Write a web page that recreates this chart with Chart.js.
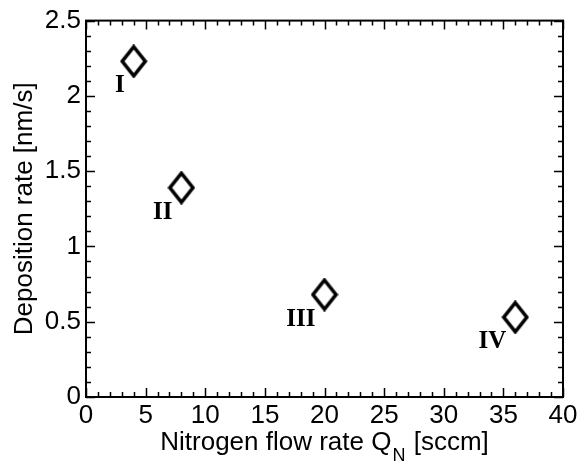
<!DOCTYPE html>
<html>
<head>
<meta charset="utf-8">
<script src="https://cdn.jsdelivr.net/npm/chart.js@4"></script>
<style>
  html, body { margin: 0; padding: 0; background: #fff; }
  #wrap { width: 582px; height: 461px; }
</style>
</head>
<body>
<div id="wrap"><canvas id="depChart"></canvas></div>
<script>
// data
const flowRate = [4, 8, 20, 36];
const depositionRate = [2.23, 1.39, 0.68, 0.53];
const sampleLabels = ['I', 'II', 'III', 'IV'];
const xTickValues = [0, 5, 10, 15, 20, 25, 30, 35, 40];
const yTickValues = [0, 0.5, 1, 1.5, 2, 2.5];

const sansFont = '"Liberation Sans", Arial, Helvetica, sans-serif';
const serifFont = '"Liberation Serif", "Times New Roman", serif';

// tall open diamond marker
function makeDiamond() {
  const c = document.createElement('canvas');
  c.width = 28; c.height = 34;
  const g = c.getContext('2d');
  g.lineWidth = 3.6;
  g.strokeStyle = '#000';
  g.fillStyle = '#fff';
  g.beginPath();
  g.moveTo(14, 2.5);
  g.lineTo(25.5, 17);
  g.lineTo(14, 31.5);
  g.lineTo(2.5, 17);
  g.closePath();
  g.fill();
  g.stroke();
  return c;
}

// inward ticks on all sides, box and titles (matlab look)
const frame = {
  id: 'frame',
  afterDatasetsDraw(chart) {
    const { ctx, chartArea: a, scales: { x, y } } = chart;
    ctx.save();
    ctx.strokeStyle = '#000';
    ctx.lineWidth = 1.5;
    ctx.beginPath();
    for (let v = 0; v <= 40; v += 1) {
      const px = Math.round(x.getPixelForValue(v)) + 0.5;
      const len = v % 5 === 0 ? 9 : 5;
      ctx.moveTo(px, a.bottom); ctx.lineTo(px, a.bottom - len);
      ctx.moveTo(px, a.top); ctx.lineTo(px, a.top + len);
    }
    for (let i = 0; i <= 25; i++) {
      const py = Math.round(y.getPixelForValue(i / 10)) + 0.5;
      const len = i % 5 === 0 ? 9 : 5;
      ctx.moveTo(a.left, py); ctx.lineTo(a.left + len, py);
      ctx.moveTo(a.right, py); ctx.lineTo(a.right - len, py);
    }
    ctx.stroke();
    ctx.lineWidth = 2;
    ctx.strokeRect(a.left, a.top, a.right - a.left, a.bottom - a.top);

    // sample labels
    ctx.fillStyle = '#000';
    ctx.font = 'bold 25px ' + serifFont;
    ctx.textAlign = 'right';
    ctx.textBaseline = 'alphabetic';
    const meta = chart.getDatasetMeta(0);
    meta.data.forEach((pt, i) => {
      ctx.fillText(sampleLabels[i], pt.x - 9, pt.y + 31);
    });

    // axis titles
    const big = '26px ' + sansFont;
    const small = '18px ' + sansFont;
    const main = 'Nitrogen flow rate Q';
    const tail = ' [sccm]';
    ctx.textAlign = 'left';
    ctx.font = big;
    const wMain = ctx.measureText(main).width;
    const wTail = ctx.measureText(tail).width;
    ctx.font = small;
    const wSub = ctx.measureText('N').width + 2;
    const sx = (a.left + a.right) / 2 - (wMain + wSub + wTail) / 2;
    const by = 450;
    ctx.font = big;
    ctx.fillText(main, sx, by);
    ctx.font = small;
    ctx.fillText('N', sx + wMain + 1, by + 11);
    ctx.font = big;
    ctx.fillText(tail, sx + wMain + wSub, by);

    ctx.translate(32, (a.top + a.bottom) / 2);
    ctx.rotate(-Math.PI / 2);
    ctx.textAlign = 'center';
    ctx.fillText('Deposition rate [nm/s]', 0, 0);
    ctx.restore();
  }
};

new Chart(document.getElementById('depChart'), {
  type: 'scatter',
  data: {
    datasets: [{
      data: flowRate.map((v, i) => ({ x: v, y: depositionRate[i] })),
      pointStyle: makeDiamond(),
      pointRadius: 14,
      showLine: false
    }]
  },
  options: {
    responsive: true,
    maintainAspectRatio: false,
    animation: false,
    layout: { padding: { top: 19, right: 19, left: 0, bottom: 0 } },
    plugins: { legend: { display: false }, tooltip: { enabled: false } },
    scales: {
      x: {
        type: 'linear',
        min: 0, max: 40,
        afterBuildTicks: s => { s.ticks = xTickValues.map(v => ({ value: v })); },
        afterFit: s => { s.height = 64; },
        grid: { display: false, drawTicks: false },
        border: { display: false },
        ticks: { color: '#000', padding: 3, maxRotation: 0, font: { family: sansFont, size: 26 } }
      },
      y: {
        type: 'linear',
        min: 0, max: 2.5,
        afterBuildTicks: s => { s.ticks = yTickValues.map(v => ({ value: v })); },
        afterFit: s => { s.width = 86; },
        grid: { display: false, drawTicks: false },
        border: { display: false },
        ticks: {
          color: '#000', padding: 5,
          font: { family: sansFont, size: 26 },
          callback: v => String(v)
        }
      }
    }
  },
  plugins: [frame]
});
</script>
</body>
</html>
